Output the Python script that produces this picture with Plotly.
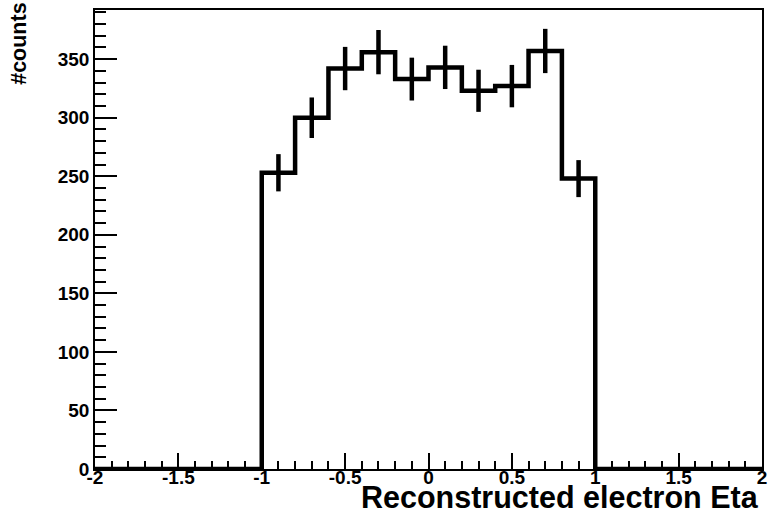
import plotly.graph_objects as go

# Bin edges of the histogram (eta from -2 to 2, width 0.2)
bin_edges = [-2.0, -1.8, -1.6, -1.4, -1.2, -1.0, -0.8, -0.6, -0.4, -0.2, 0.0,
             0.2, 0.4, 0.6, 0.8, 1.0, 1.2, 1.4, 1.6, 1.8, 2.0]
# Counts per bin
counts = [0, 0, 0, 0, 0, 253, 300, 342, 356, 333, 343, 323, 327, 357, 248,
          0, 0, 0, 0, 0]
# Statistical errors per bin
errors = [0, 0, 0, 0, 0, 15.9, 17.3, 18.5, 18.9, 18.3, 18.5, 18.0, 18.1, 18.9, 15.8,
          0, 0, 0, 0, 0]

x_tickvals = [-2, -1.5, -1, -0.5, 0, 0.5, 1, 1.5, 2]
x_ticktext = ["-2", "-1.5", "-1", "-0.5", "0", "0.5", "1", "1.5", "2"]

x_title = "Reconstructed electron Eta"
y_title = "#counts"

# step outline: left edges + final right edge
step_x = bin_edges
step_y = counts + [counts[-1]]

centers = [(bin_edges[i] + bin_edges[i + 1]) / 2 for i in range(len(counts))]
eb_x = [c for c, v in zip(centers, counts) if v > 0]
eb_y = [v for v in counts if v > 0]
eb_e = [e for e, v in zip(errors, counts) if v > 0]

fig = go.Figure()
fig.add_trace(go.Scatter(
    x=step_x, y=step_y, mode="lines", line_shape="hv",
    line=dict(color="black", width=4.5), hoverinfo="skip", showlegend=False))
fig.add_trace(go.Scatter(
    x=eb_x, y=eb_y, mode="markers", marker=dict(size=1, color="black"),
    error_y=dict(type="data", array=eb_e, visible=True, width=0,
                 thickness=4.5, color="black"),
    showlegend=False))

tickfont = dict(family="Liberation Sans, Arial, sans-serif", size=19,
                color="black", weight="bold")

fig.update_layout(
    width=769, height=516,
    margin=dict(l=95, r=2, t=10, b=47),
    paper_bgcolor="white", plot_bgcolor="white",
    xaxis=dict(range=[-2, 2], tickmode="array", tickvals=x_tickvals,
               ticktext=x_ticktext, ticks="inside", ticklen=16,
               tickwidth=1.5, tickcolor="black", showgrid=False, zeroline=False,
               showline=True, linecolor="black", linewidth=1.5, mirror=True,
               tickfont=tickfont, ticklabelstandoff=-10, ticklabeloverflow="allow",
               minor=dict(dtick=0.1, tick0=-2, ticks="inside", ticklen=8,
                          tickwidth=1.5, tickcolor="black", showgrid=False)),
    yaxis=dict(range=[0, 392], dtick=50, tick0=0, ticks="inside", ticklen=22,
               tickwidth=1.5, tickcolor="black", showgrid=False, zeroline=False,
               showline=True, linecolor="black", linewidth=1.5, mirror=True,
               tickfont=tickfont, ticklabelstandoff=0,
               minor=dict(dtick=10, ticks="inside", ticklen=11, tickwidth=1.5,
                          tickcolor="black", showgrid=False)),
    annotations=[
        dict(text=x_title, xref="paper", yref="paper", x=0.9985, y=0,
             xanchor="right", yanchor="top", yshift=-9, showarrow=False,
             font=dict(family="Liberation Sans, Arial, sans-serif", size=30.5,
                       color="black", weight="bold")),
        dict(text=y_title, xref="paper", yref="paper", x=0, y=1.02,
             xanchor="center", yanchor="top", xshift=-76, textangle=-90,
             showarrow=False,
             font=dict(family="Liberation Sans, Arial, sans-serif", size=21.5,
                       color="black", weight="bold")),
    ],
)

fig.write_html("out.html")
